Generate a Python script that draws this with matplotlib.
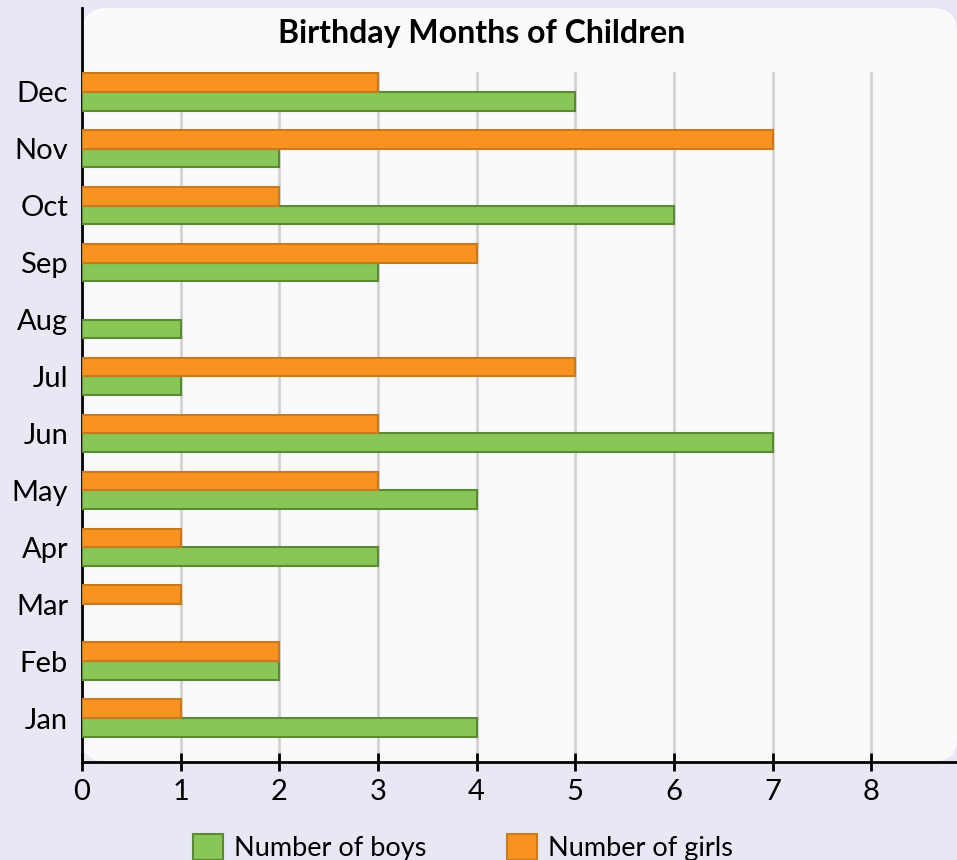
import matplotlib
matplotlib.use("Agg")
import matplotlib.pyplot as plt
from matplotlib.patches import FancyBboxPatch, Patch
import numpy as np

months = ["Jan", "Feb", "Mar", "Apr", "May", "Jun", "Jul", "Aug", "Sep", "Oct", "Nov", "Dec"]
boys = [4, 2, 0, 3, 4, 7, 1, 1, 3, 6, 2, 5]
girls = [1, 2, 1, 1, 3, 3, 5, 0, 4, 2, 7, 3]
xticks = [0, 1, 2, 3, 4, 5, 6, 7, 8]
title = "Birthday Months of Children"

plt.rcParams['font.family'] = ['Lato', 'DejaVu Sans']

BG = "#e8e8f4"
PANEL = "#fafafc"
GREEN = "#88c655"
GREEN_E = "#5b8a34"
ORANGE = "#f7931e"
ORANGE_E = "#c97a1e"

fig = plt.figure(figsize=(9.57, 8.6), dpi=100, facecolor=BG)
ax = fig.add_axes([82/957, 98/860, 1 - 82/957, (762 - 8)/860])
ax.set_facecolor("none")

panel = FancyBboxPatch((0, 0), 1, 1, boxstyle="round,pad=0,rounding_size=0.03",
                       transform=ax.transAxes, facecolor=PANEL, edgecolor="none",
                       zorder=0, clip_on=False, mutation_aspect=1.0)
ax.add_patch(panel)

y = np.arange(len(months))
h = 0.33
ax.barh(y - h/2, boys, height=h, color=GREEN, edgecolor=GREEN_E,
        linewidth=[1.5 if v else 0 for v in boys], zorder=3, label="Number of boys")
ax.barh(y + h/2, girls, height=h, color=ORANGE, edgecolor=ORANGE_E,
        linewidth=[1.5 if v else 0 for v in girls], zorder=3, label="Number of girls")

ymin, ymax = -0.77, 12.47
ax.set_ylim(ymin, ymax)
ax.set_xlim(0, 8.87)

for t in xticks[1:]:
    ax.plot([t, t], [ymin, 11.33], color="#d3d3d3", linewidth=2, zorder=1)

ax.set_yticks(y)
ax.set_yticklabels(months, fontsize=21, va="center_baseline")
ax.tick_params(axis='y', length=0, pad=10)
ax.set_xticks(xticks)
ax.set_xticklabels([str(t) for t in xticks], fontsize=21)
ax.tick_params(axis='x', direction='inout', length=13, width=2, pad=6)

for s in ["top", "right"]:
    ax.spines[s].set_visible(False)
ax.spines["left"].set_linewidth(2)
ax.spines["bottom"].set_linewidth(2)

ax.text(4.05, 12.02, title, ha="center", va="center", fontsize=23, fontweight="bold")

handles = [Patch(facecolor=GREEN, edgecolor=GREEN_E, linewidth=1.5),
           Patch(facecolor=ORANGE, edgecolor=ORANGE_E, linewidth=1.5)]
fig.legend(handles, ["Number of boys", "Number of girls"], loc="lower center",
           bbox_to_anchor=(463/957, -0.03), ncol=2, frameon=False, fontsize=19.5,
           handlelength=1.1, handleheight=1.1, handletextpad=0.4, columnspacing=3.0)

fig.savefig("out.png", dpi=100, facecolor=BG)
